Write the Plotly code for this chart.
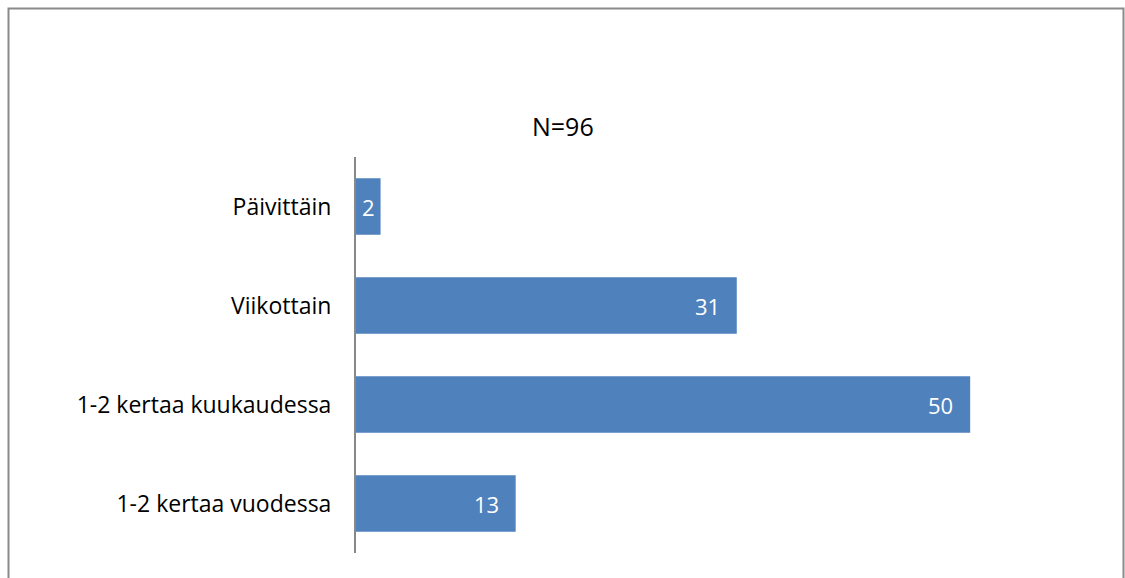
import plotly.graph_objects as go

# Survey answers: how often (N=96)
categories = ["Päivittäin", "Viikottain", "1-2 kertaa kuukaudessa", "1-2 kertaa vuodessa"]
counts = [2, 31, 50, 13]
title_text = "N=96"

W, H = 1125, 578
L, R, T, B = 356, 32, 157, 25
x_max = 60

bar_color = "#4F81BD"
font_family = "'Open Sans', sans-serif"

fig = go.Figure(
    go.Bar(
        x=counts,
        y=categories,
        orientation="h",
        marker=dict(color=bar_color, line=dict(width=0)),
        hoverinfo="skip",
    )
)

# value labels at the inner end of each bar; narrow bars get a centred label
px_per_unit = (W - L - R) / x_max
annotations = []
for cat, v in zip(categories, counts):
    narrow = v * px_per_unit < 50
    annotations.append(
        dict(
            x=v / 2 if narrow else v,
            y=cat,
            xref="x",
            yref="y",
            text=str(v),
            showarrow=False,
            xanchor="center" if narrow else "right",
            xshift=0 if narrow else -15,
            font=dict(family=font_family, size=22, color="white"),
        )
    )

annotations.append(
    dict(
        x=(563 - L) / (W - L - R),
        y=(H - B - 126) / (H - T - B),
        xref="paper",
        yref="paper",
        text=title_text,
        showarrow=False,
        xanchor="center",
        yanchor="middle",
        font=dict(family=font_family, size=25, color="black"),
    )
)

pw, ph = W - L - R, H - T - B
frame = dict(
    type="rect",
    xref="paper",
    yref="paper",
    x0=(8.5 - L) / pw,
    x1=(1123.5 - L) / pw,
    y0=(H - B - 600) / ph,
    y1=(H - B - 8.5) / ph,
    line=dict(color="#8a8a8a", width=2),
    fillcolor="rgba(0,0,0,0)",
    layer="below",
)

fig.update_layout(
    width=W,
    height=H,
    margin=dict(l=L, r=R, t=T, b=B),
    paper_bgcolor="white",
    plot_bgcolor="white",
    bargap=0.43,
    showlegend=False,
    annotations=annotations,
    shapes=[frame],
    xaxis=dict(
        range=[0, x_max],
        visible=False,
        fixedrange=True,
    ),
    yaxis=dict(
        categoryorder="array",
        categoryarray=categories[::-1],
        showline=True,
        linecolor="#888888",
        linewidth=2,
        ticks="",
        showgrid=False,
        zeroline=False,
        ticklabelstandoff=18,
        tickfont=dict(family=font_family, size=23, color="black"),
        fixedrange=True,
    ),
)

fig.write_html("out.html")
